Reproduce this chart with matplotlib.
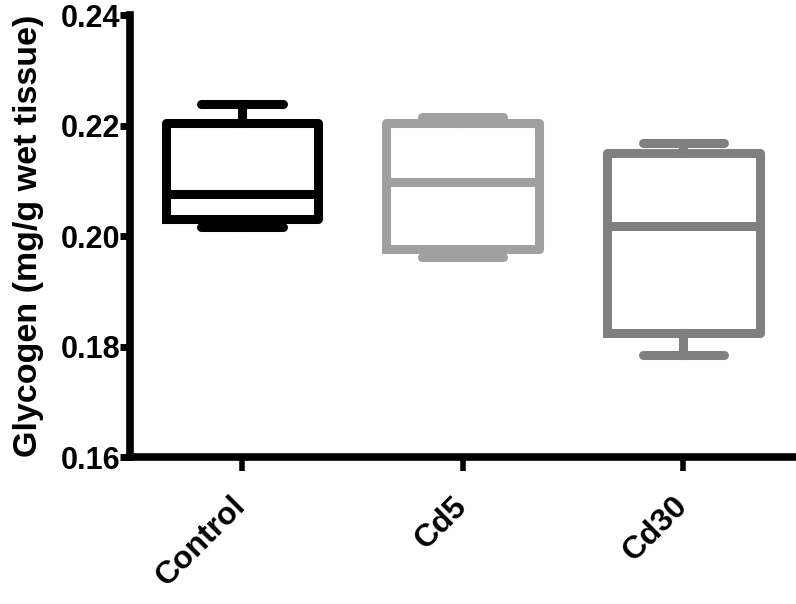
import matplotlib
matplotlib.use("Agg")
import matplotlib.pyplot as plt

plt.rcParams['font.family'] = ['Liberation Sans', 'DejaVu Sans']

categories = ["Control", "Cd5", "Cd30"]
whisker_low = [0.2016, 0.1962, 0.1785]
q1 = [0.2031, 0.1976, 0.1824]
median = [0.2076, 0.2098, 0.2018]
q3 = [0.2204, 0.2204, 0.2151]
whisker_high = [0.2240, 0.2215, 0.2169]
colors = ["#000000", "#a0a0a0", "#808080"]

yticks = [0.16, 0.18, 0.20, 0.22, 0.24]

fig = plt.figure(figsize=(7.96, 6.04), dpi=100)
ax = fig.add_axes([0.163, 0.243, 0.837, 0.732])

lw = 6.5
for i, cat in enumerate(categories):
    stats = [dict(med=median[i], q1=q1[i], q3=q3[i], whislo=whisker_low[i],
                  whishi=whisker_high[i], fliers=[], label=cat)]
    c = colors[i]
    ax.bxp(stats, positions=[i], widths=0.69, showfliers=False,
           boxprops=dict(color=c, linewidth=lw, solid_joinstyle='round'),
           medianprops=dict(color=c, linewidth=lw),
           whiskerprops=dict(color=c, linewidth=lw),
           capprops=dict(color=c, linewidth=lw, solid_capstyle='round'),
           capwidths=0.37, manage_ticks=False)

ax.set_xlim(-0.507, 2.51)
ax.set_ylim(0.16, 0.24)
ax.set_yticks(yticks)
ax.set_yticklabels([f"{t:.2f}" for t in yticks])
ax.set_xticks(range(len(categories)))
ax.set_xticklabels(categories, rotation=45, ha='right', va='center',
                   rotation_mode='anchor')

for s in ['top', 'right']:
    ax.spines[s].set_visible(False)
for s in ['left', 'bottom']:
    ax.spines[s].set_linewidth(5.5)
ax.tick_params(axis='y', length=7, width=5, direction='out', labelsize=22, pad=0)
ax.tick_params(axis='x', length=10, width=4, direction='out', labelsize=23, pad=22)
for lab in ax.get_xticklabels() + ax.get_yticklabels():
    lab.set_fontweight('bold')

ax.set_ylabel("Glycogen (mg/g wet tissue)", fontsize=24.5, fontweight='bold', labelpad=12)

fig.savefig("out.png", dpi=100)
